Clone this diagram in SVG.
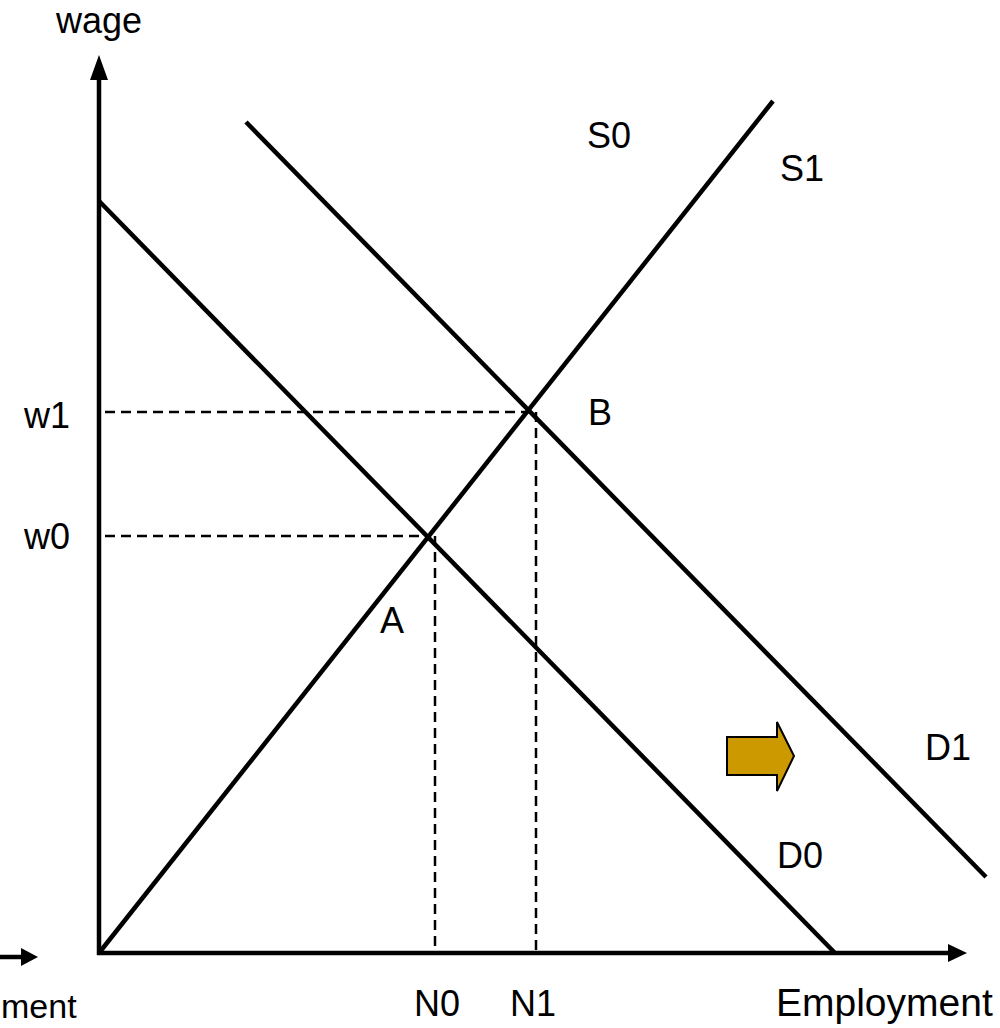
<svg xmlns="http://www.w3.org/2000/svg" width="1000" height="1028" viewBox="0 0 1000 1028">
<style>
.t{font-family:"Liberation Sans",Arial,sans-serif;font-size:36px;fill:#000}
.ln{stroke:#000;stroke-width:4.5;fill:none;stroke-linecap:butt}
.ds{stroke:#000;stroke-width:2.5;fill:none;stroke-dasharray:10 6}
</style>
<rect width="1000" height="1028" fill="#fff"/>
<g id="connectors">
<line class="ln" x1="99" y1="955" x2="99" y2="78"/>
<polygon points="99,55 90,80 108,80" fill="#000"/>
<line class="ln" x1="97" y1="953" x2="950" y2="953"/>
<polygon points="967,953 948,944 948,962" fill="#000"/>
<line class="ln" x1="0" y1="957" x2="23" y2="957"/>
<polygon points="38,957 21,948 21,966" fill="#000"/>
<line class="ds" x1="105" y1="412" x2="530" y2="412"/>
<line class="ds" x1="536" y1="412" x2="536" y2="951"/>
<line class="ds" x1="105" y1="536" x2="429" y2="536"/>
<line class="ds" x1="435" y1="536" x2="435" y2="951"/>
<line id="S" class="ln" x1="99" y1="953" x2="773" y2="101"/>
<line id="D0" class="ln" x1="99" y1="201" x2="835" y2="953"/>
<line id="D1" class="ln" x1="246" y1="122" x2="986" y2="877"/>
</g>
<g id="shift-arrow">
<polygon points="727,737 777,737 777,722 794,756 777,791 777,775 727,775" fill="#CC9900" stroke="#000" stroke-width="2"/>
</g>
<g id="labels">
<text class="t" x="56" y="33">wage</text>
<text class="t" x="587" y="148">S0</text>
<text class="t" x="780" y="181">S1</text>
<text class="t" x="24" y="428">w1</text>
<text class="t" x="24" y="549">w0</text>
<text class="t" x="588" y="425">B</text>
<text class="t" x="380" y="633">A</text>
<text class="t" x="925" y="760">D1</text>
<text class="t" x="777" y="868">D0</text>
<text class="t" x="414" y="1016">N0</text>
<text class="t" x="510" y="1016">N1</text>
<text class="t" x="776" y="1016" style="font-size:39px">Employment</text>
<text class="t" x="1" y="1018" style="font-size:34px">ment</text>
</g>
</svg>
